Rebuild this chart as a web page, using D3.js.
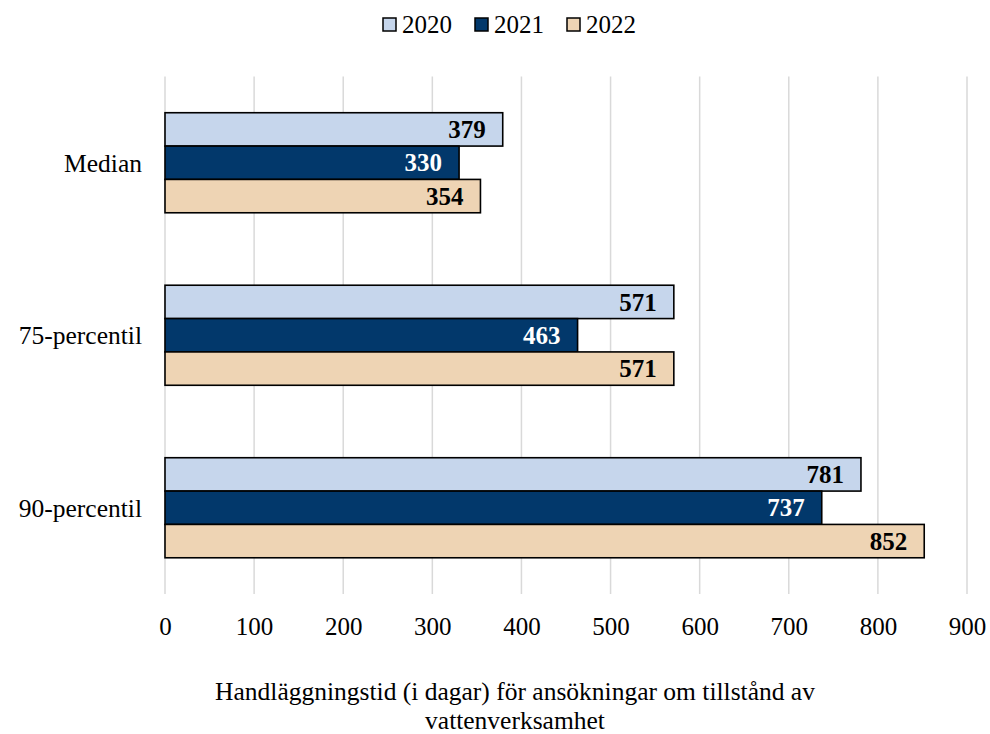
<!DOCTYPE html>
<html><head><meta charset="utf-8">
<script src="https://cdn.jsdelivr.net/npm/d3@7"></script>
<style>body{margin:0;background:#fff}svg{display:block}text{font-family:"Liberation Serif","Times New Roman",serif;fill:#000}</style>
</head><body>
<svg id="c" width="990" height="734"></svg>
<script>
const categories = ["Median", "75-percentil", "90-percentil"];
const seriesNames = ["2020", "2021", "2022"];
const values2020 = [379, 571, 781];
const values2021 = [330, 463, 737];
const values2022 = [354, 571, 852];
const xTicks = [0, 100, 200, 300, 400, 500, 600, 700, 800, 900];
const colors = ["#c6d6ec", "#02386b", "#eed4b4"];
const labelColors = ["#000", "#fff", "#000"];
const titleLines = ["Handläggningstid (i dagar) för ansökningar om tillstånd av", "vattenverksamhet"];

const seriesValues = [values2020, values2021, values2022];
const svg = d3.select("#c");
const x = d3.scaleLinear().domain([0, 900]).range([165, 967]);
const y = d3.scaleBand().domain(categories).range([76.5, 594]).paddingInner(0.42).paddingOuter(0.21);
const ys = d3.scaleBand().domain(seriesNames).range([0, y.bandwidth()]);

// gridlines
svg.append("g").selectAll("line").data(xTicks).join("line")
  .attr("x1", d => x(d)).attr("x2", d => x(d))
  .attr("y1", 76.5).attr("y2", 594)
  .attr("stroke", "#d9d9d9").attr("stroke-width", 1.5);

// x axis labels
const xAxis = d3.axisBottom(x).tickValues(xTicks).tickSize(0).tickPadding(0);
const gx = svg.append("g").attr("transform", "translate(0,617)").call(xAxis);
gx.select(".domain").remove();
gx.selectAll("text").attr("font-size", 25).attr("font-family", "Liberation Serif").attr("fill", "#000").attr("dy", "0.71em");

// y axis labels
const yAxis = d3.axisLeft(y).tickSize(0).tickPadding(0);
const gy = svg.append("g").attr("transform", "translate(142,0)").call(yAxis);
gy.select(".domain").remove();
gy.selectAll("text").attr("font-size", 25.5).attr("font-family", "Liberation Serif").attr("fill", "#000").attr("dy", "0.36em");

// bars
const groups = svg.append("g").selectAll("g").data(categories).join("g")
  .attr("transform", d => `translate(0,${y(d)})`);
seriesNames.forEach((s, si) => {
  groups.append("rect")
    .attr("x", x(0))
    .attr("y", ys(s))
    .attr("width", (d, i) => x(seriesValues[si][i]) - x(0))
    .attr("height", ys.bandwidth())
    .attr("fill", colors[si]).attr("stroke", "#000").attr("stroke-width", 1.6);
  groups.append("text")
    .attr("x", (d, i) => x(seriesValues[si][i]) - 17)
    .attr("y", ys(s) + ys.bandwidth() / 2)
    .attr("dy", "0.35em")
    .attr("text-anchor", "end")
    .attr("font-size", 25).attr("font-weight", "bold")
    .style("fill", labelColors[si])
    .text((d, i) => seriesValues[si][i]);
});

// legend
const legendX = [383, 475, 567];
const lg = svg.append("g").selectAll("g").data(seriesNames).join("g")
  .attr("transform", (d, i) => `translate(${legendX[i]},18)`);
lg.append("rect").attr("width", 13).attr("height", 13)
  .attr("fill", (d, i) => colors[i]).attr("stroke", "#000").attr("stroke-width", 1.5);
lg.append("text").attr("x", 19).attr("y", 6.5).attr("dy", "0.35em")
  .attr("font-size", 25).text(d => d);

// axis title
svg.append("g").selectAll("text").data(titleLines).join("text")
  .attr("x", 515).attr("y", (d, i) => 700 + i * 29)
  .attr("text-anchor", "middle").attr("font-size", 25.5).text(d => d);
</script>
</body></html>
